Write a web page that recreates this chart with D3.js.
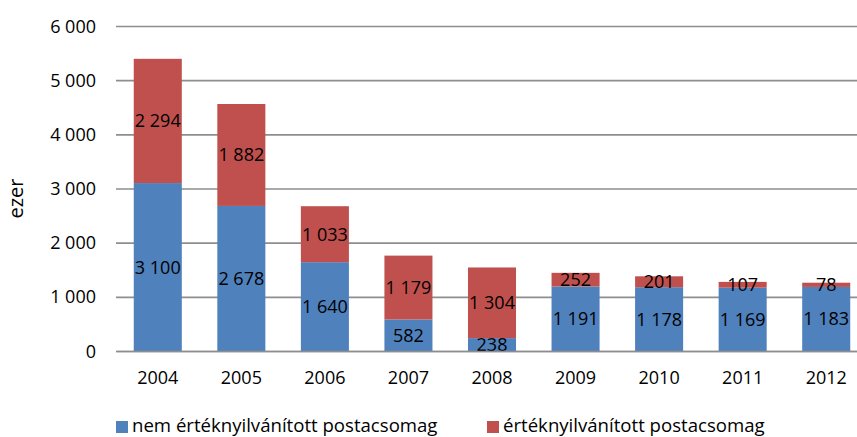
<!DOCTYPE html>
<html>
<head>
<meta charset="utf-8">
<script src="https://cdn.jsdelivr.net/npm/d3@7"></script>
<style>
  body { margin: 0; background: #fff; }
  svg text { font-family: "Open Sans", sans-serif; fill: #000; }
</style>
</head>
<body>
<div id="chart"></div>
<script>
// Chart data
const years = ['2004', '2005', '2006', '2007', '2008', '2009', '2010', '2011', '2012'];
const seriesNames = ['nem értéknyilvánított postacsomag', 'értéknyilvánított postacsomag'];
const undeclared = [3100, 2678, 1640, 582, 238, 1191, 1178, 1169, 1183];
const declared = [2294, 1882, 1033, 1179, 1304, 252, 201, 107, 78];
const yTicks = [0, 1000, 2000, 3000, 4000, 5000, 6000];
const yLabel = 'ezer';

const config = {
  width: 857,
  height: 437,
  margin: { top: 26, left: 116 },
  plotWidth: 752,
  plotHeight: 325,
  colors: ['#4f81bd', '#c0504d'],
  fontSize: 18
};

// Hungarian style number format: space as thousands separator
const locale = d3.formatLocale({ decimal: ',', thousands: ' ', grouping: [3], currency: ['', ''] });
const fmt = locale.format(',d');

const rows = years.map((y, i) => ({ year: y, undeclared: undeclared[i], declared: declared[i] }));
const stack = d3.stack().keys(['undeclared', 'declared']);
const stacked = stack(rows);

const svg = d3.select('#chart').append('svg')
  .attr('width', config.width)
  .attr('height', config.height);

const chart = svg.append('g')
  .attr('transform', `translate(${config.margin.left},${config.margin.top})`);

const x = d3.scaleBand()
  .domain(years)
  .range([0, config.plotWidth])
  .paddingInner(0.425)
  .paddingOuter(0.2125);

const y = d3.scaleLinear()
  .domain([0, 6000])
  .range([config.plotHeight, 0]);

// Gridlines + y labels
const yAxis = d3.axisLeft(y)
  .tickValues(yTicks)
  .tickFormat(fmt)
  .tickSize(-config.plotWidth)
  .tickPadding(20);

const yAxisG = chart.append('g').call(yAxis);
yAxisG.select('.domain').remove();
yAxisG.selectAll('.tick line').attr('stroke', '#8e8e8e').attr('stroke-width', 1.6);
yAxisG.selectAll('.tick text').attr('font-size', config.fontSize).attr('dy', '0.34em');

// Bars
const series = chart.append('g').selectAll('g')
  .data(stacked)
  .join('g')
  .attr('fill', (d, i) => config.colors[i]);

series.selectAll('rect')
  .data(d => d)
  .join('rect')
  .attr('x', d => x(d.data.year))
  .attr('y', d => y(d[1]))
  .attr('width', x.bandwidth())
  .attr('height', d => y(d[0]) - y(d[1]));

// Data labels
series.selectAll('text')
  .data(d => d)
  .join('text')
  .attr('x', d => x(d.data.year) + x.bandwidth() / 2)
  .attr('y', d => (y(d[0]) + y(d[1])) / 2)
  .attr('dy', '0.36em')
  .attr('text-anchor', 'middle')
  .attr('font-size', config.fontSize)
  .text(d => fmt(d[1] - d[0]));

// X axis
const xAxis = d3.axisBottom(x).tickSize(0).tickPadding(20);
const xAxisG = chart.append('g')
  .attr('transform', `translate(0,${config.plotHeight})`)
  .call(xAxis);
xAxisG.select('.domain').attr('stroke', '#8e8e8e').attr('stroke-width', 1.6);
xAxisG.selectAll('.tick text').attr('font-size', config.fontSize);

// Y axis title
svg.append('text')
  .attr('transform', `translate(23,${config.margin.top + config.plotHeight / 2 + 10}) rotate(-90)`)
  .attr('text-anchor', 'middle')
  .attr('font-size', 20)
  .text(yLabel);

// Legend
const legendX = [116, 487];
const legend = svg.append('g').selectAll('g')
  .data(seriesNames)
  .join('g')
  .attr('transform', (d, i) => `translate(${legendX[i]},421)`);

legend.append('rect')
  .attr('width', 12)
  .attr('height', 12)
  .attr('fill', (d, i) => config.colors[i]);

legend.append('text')
  .attr('x', 16)
  .attr('y', 11)
  .attr('font-size', 18.6)
  .text(d => d);
</script>
</body>
</html>
